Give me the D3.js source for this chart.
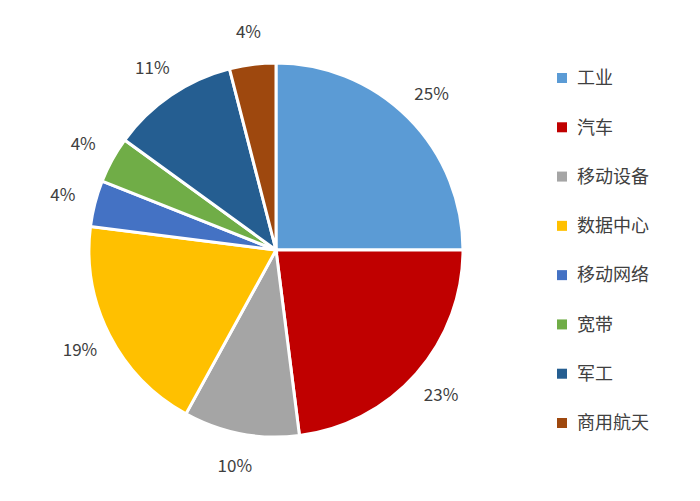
<!DOCTYPE html>
<html><head><meta charset="utf-8">
<script src="https://cdn.jsdelivr.net/npm/d3@7"></script>
<style>body{margin:0;background:#fff}</style>
</head><body>
<svg id="c" width="700" height="501"></svg>
<script>
const categories = ['工业', '汽车', '移动设备', '数据中心', '移动网络', '宽带', '军工', '商用航天'];
const values = [25, 23, 10, 19, 4, 4, 11, 4];
const colors = ['#5B9BD5', '#C00000', '#A5A5A5', '#FFC000', '#4472C4', '#70AD47', '#255E91', '#9E480E'];

const svg = d3.select('#c');
const cx = 276, cy = 250, r = 187;
const font = '"Noto Sans CJK SC", "Liberation Sans", sans-serif';

const pie = d3.pie().sort(null).value(d => d)(values);
const arc = d3.arc().innerRadius(0).outerRadius(r);
const labelArc = d3.arc().innerRadius(220).outerRadius(220);

const g = svg.append('g').attr('transform', `translate(${cx},${cy})`);
g.selectAll('path').data(pie).enter().append('path')
    .attr('d', arc)
    .attr('fill', (d, i) => colors[i])
    .attr('stroke', '#fff')
    .attr('stroke-width', 3);

g.selectAll('text').data(pie).enter().append('text')
    .attr('transform', d => `translate(${labelArc.centroid(d)})`)
    .attr('text-anchor', 'middle')
    .attr('dy', '0.35em')
    .style('font-family', font)
    .style('font-size', '17px')
    .style('fill', '#404040')
    .text(d => d.value + '%');

// legend
const ly = d3.scalePoint().domain(categories).range([78, 423]);
const lg = svg.append('g');
lg.selectAll('rect').data(categories).enter().append('rect')
    .attr('x', 557).attr('y', d => ly(d) - 5)
    .attr('width', 10).attr('height', 10)
    .attr('fill', (d, i) => colors[i]);
lg.selectAll('text').data(categories).enter().append('text')
    .attr('x', 577).attr('y', d => ly(d))
    .attr('dy', '0.35em')
    .style('font-family', font)
    .style('font-size', '18px')
    .style('fill', '#404040')
    .text(d => d);
</script>
</body></html>
